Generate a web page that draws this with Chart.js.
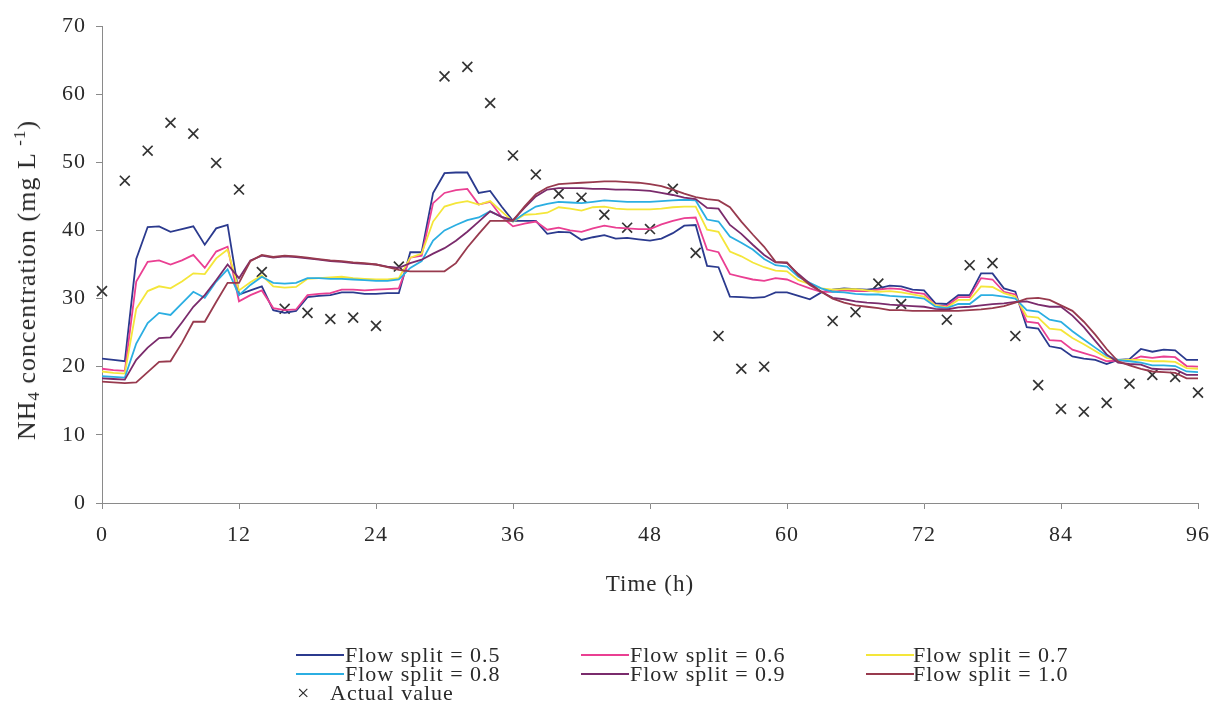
<!DOCTYPE html>
<html>
<head>
<meta charset="utf-8">
<script src="https://cdn.jsdelivr.net/npm/chart.js@4.4.1/dist/chart.umd.min.js"></script>
<style>
  html, body { margin: 0; padding: 0; background: #fff; }
  #wrap { position: relative; width: 1213px; height: 703px; overflow: hidden; }
  canvas { display: block; }
  .lg { position: absolute; font-family: "Liberation Serif", "Times New Roman", serif; font-size: 22px; letter-spacing: 1px; color: #2a2a2a; line-height: 1; white-space: nowrap; }
  .sw { position: absolute; height: 0; border-top: 2px solid; }
  #ytitle { position: absolute; left: 27px; top: 280px; transform: translate(-50%, -50%) rotate(-90deg); font-family: "Liberation Serif", "Times New Roman", serif; font-size: 26px; letter-spacing: 1px; color: #2a2a2a; white-space: nowrap; line-height: 1; }
  #ytitle sub { font-size: 17px; vertical-align: -4px; line-height: 0; }
  #ytitle sup { font-size: 17px; vertical-align: 10px; line-height: 0; }
</style>
</head>
<body>
<div id="wrap">
  <canvas id="c" width="1213" height="703"></canvas>
  <div id="ytitle">NH<sub>4</sub> concentration (mg L <sup>-1</sup>)</div>
  <div id="legend"></div>
</div>
<script>
// ---- data ----
const hours = [0,1,2,3,4,5,6,7,8,9,10,11,12,13,14,15,16,17,18,19,20,21,22,23,24,25,26,27,28,29,30,31,32,33,34,35,36,37,38,39,40,41,42,43,44,45,46,47,48,49,50,51,52,53,54,55,56,57,58,59,60,61,62,63,64,65,66,67,68,69,70,71,72,73,74,75,76,77,78,79,80,81,82,83,84,85,86,87,88,89,90,91,92,93,94,95,96];

const split05 = [21.2,21.0,20.8,35.8,40.5,40.6,39.8,40.2,40.6,37.9,
  40.3,40.8,30.6,31.2,31.8,28.3,27.9,28.2,30.2,30.4,
  30.5,30.9,30.9,30.7,30.7,30.8,30.8,36.8,36.8,45.5,
  48.4,48.5,48.5,45.5,45.8,43.5,41.4,41.4,41.4,39.5,
  39.8,39.7,38.6,39.0,39.3,38.8,38.9,38.7,38.5,38.8,
  39.6,40.7,40.8,34.8,34.6,30.3,30.2,30.1,30.2,30.9,
  30.9,30.4,29.9,30.9,31.3,31.5,31.4,31.3,31.5,31.9,
  31.8,31.3,31.2,29.3,29.2,30.5,30.5,33.7,33.7,31.5,
  31.0,25.8,25.6,23.0,22.7,21.5,21.2,21.0,20.4,21.0,
  21.1,22.6,22.2,22.5,22.4,21.0,21.0];

const split06 = [19.7,19.5,19.4,32.5,35.4,35.6,35.0,35.6,36.4,34.5,
  36.9,37.6,29.6,30.5,31.2,28.6,28.3,28.4,30.5,30.7,
  30.8,31.3,31.3,31.2,31.3,31.4,31.5,36.0,36.3,44.0,
  45.5,45.9,46.1,43.8,44.2,42.0,40.6,41.0,41.3,40.1,
  40.4,40.0,39.8,40.3,40.7,40.4,40.3,40.2,40.2,40.9,
  41.4,41.8,41.9,37.2,36.8,33.6,33.2,32.8,32.6,33.0,
  32.8,32.1,31.5,31.0,31.0,31.2,31.1,31.1,31.3,31.5,
  31.4,30.9,30.7,29.0,28.9,30.2,30.2,33.0,32.8,31.0,
  30.6,26.6,26.4,23.9,23.8,22.5,22.0,21.5,20.8,20.9,
  20.9,21.5,21.3,21.5,21.4,20.1,20.0];

const split07 = [19.3,19.1,19.0,28.5,31.1,31.8,31.5,32.5,33.7,33.6,
  35.9,37.2,31.2,32.4,33.4,31.8,31.6,31.7,32.9,33.0,
  33.1,33.2,33.0,32.9,32.8,32.8,33.0,36.0,36.6,41.3,
  43.5,44.0,44.3,43.8,44.3,42.8,41.3,42.3,42.4,42.6,
  43.4,43.2,42.9,43.4,43.5,43.2,43.1,43.1,43.1,43.2,
  43.4,43.5,43.5,40.1,39.8,36.9,36.2,35.3,34.6,34.1,
  34.0,32.7,32.1,31.5,31.3,31.4,31.4,31.2,31.0,31.1,
  30.9,30.6,30.3,29.0,28.7,29.8,29.8,31.8,31.7,30.8,
  30.3,27.4,27.2,25.6,25.4,24.2,23.3,22.3,21.3,21.0,
  21.0,21.0,20.8,20.8,20.7,19.8,19.7];

const split08 = [18.6,18.5,18.4,23.4,26.4,27.9,27.6,29.3,31.0,30.1,
  32.5,34.3,30.5,32.0,33.2,32.3,32.2,32.3,33.0,33.0,
  32.9,32.9,32.8,32.7,32.6,32.6,32.8,34.5,35.5,38.5,
  40.0,40.8,41.5,41.9,42.8,42.0,41.3,42.5,43.5,43.9,
  44.2,44.1,44.0,44.2,44.4,44.3,44.2,44.2,44.2,44.3,
  44.4,44.5,44.4,41.6,41.3,39.1,38.2,37.2,35.8,34.9,
  34.7,33.2,32.3,31.5,31.0,30.9,30.7,30.6,30.6,30.4,
  30.3,30.2,30.0,28.8,28.6,29.2,29.2,30.5,30.5,30.3,
  30.0,28.3,28.1,26.9,26.6,25.2,24.0,22.8,21.6,21.0,
  20.8,20.6,20.2,20.2,20.1,19.3,19.2];

const split09 = [18.3,18.2,18.1,21.0,22.8,24.2,24.3,26.5,28.8,30.5,
  32.7,35.0,33.0,35.6,36.3,36.0,36.2,36.1,35.9,35.7,
  35.5,35.4,35.2,35.1,35.0,34.7,34.5,35.2,35.7,36.6,
  37.4,38.5,39.8,41.3,42.8,42.0,41.5,43.3,45.0,46.0,
  46.2,46.2,46.2,46.1,46.1,46.0,46.0,45.9,45.8,45.5,
  45.2,44.8,44.6,43.3,43.2,40.8,39.5,37.9,36.4,35.3,
  35.2,33.6,32.2,31.0,30.1,29.9,29.6,29.4,29.3,29.1,
  29.0,28.9,28.8,28.5,28.4,28.7,28.8,29.0,29.2,29.3,
  29.5,29.6,29.1,28.8,28.8,27.5,25.8,23.8,21.8,20.6,
  20.4,20.3,19.7,19.6,19.6,18.8,18.8];

const split10 = [17.8,17.7,17.6,17.7,19.2,20.7,20.8,23.5,26.6,26.6,
  29.5,32.3,32.3,35.5,36.4,36.1,36.3,36.2,36.0,35.8,
  35.6,35.5,35.3,35.2,35.0,34.6,34.2,34.0,34.0,34.0,
  34.0,35.2,37.5,39.5,41.4,41.4,41.4,43.5,45.3,46.3,
  46.8,46.9,47.0,47.1,47.2,47.2,47.1,47.0,46.8,46.5,
  46.0,45.4,44.9,44.6,44.4,43.4,41.3,39.4,37.6,35.4,
  35.3,33.4,32.0,31.0,30.0,29.4,29.0,28.8,28.6,28.3,
  28.3,28.2,28.2,28.2,28.2,28.2,28.3,28.4,28.6,28.9,
  29.4,30.0,30.1,29.8,29.0,28.2,26.6,24.7,22.6,20.8,
  20.2,19.7,19.3,19.2,19.1,18.3,18.3];

const actualHours = [0,2,4,6,8,10,12,14,16,18,20,22,24,26,30,32,34,36,38,40,42,44,46,48,50,52,54,56,58,64,66,68,70,74,76,78,80,82,84,86,88,90,92,94,96];
const actualValues = [31.1,47.3,51.7,55.8,54.2,49.9,46.0,33.9,28.5,27.9,27.0,27.2,26.0,34.7,62.6,64.0,58.7,51.0,48.2,45.4,44.8,42.3,40.4,40.2,46.1,36.7,24.5,19.7,20.0,26.7,28.0,32.2,29.2,26.9,34.9,35.2,24.5,17.3,13.8,13.4,14.7,17.5,18.8,18.5,16.2];

const seriesNames = ['Flow split = 0.5','Flow split = 0.6','Flow split = 0.7','Flow split = 0.8','Flow split = 0.9','Flow split = 1.0'];
const actualName = 'Actual value';
const xTickStep = 12;
const yTickStep = 10;

// ---- styles ----
const seriesColors = ['#2B3A8E','#EA3F92','#F4E63A','#2BAEE2','#7A2B6C','#983A4E'];
const FONT = '"Liberation Serif", "Times New Roman", serif';
const TXT = '#2a2a2a';
const AX = '#8a8a8a';

const seriesValues = [split05, split06, split07, split08, split09, split10];
const toXY = (xs, ys) => xs.map((x, i) => ({ x: x, y: ys[i] }));

const datasets = seriesValues.map((vals, i) => ({
  label: seriesNames[i],
  data: toXY(hours, vals),
  borderColor: seriesColors[i],
  backgroundColor: seriesColors[i],
  borderWidth: 1.8,
  pointRadius: 0,
  tension: 0,
  fill: false
}));
datasets.reverse();
datasets.push({
  type: 'scatter',
  label: actualName,
  data: toXY(actualHours, actualValues),
  showLine: false,
  clip: false,
  pointStyle: 'crossRot',
  pointRadius: 7,
  pointBorderWidth: 1.7,
  borderColor: '#333',
  backgroundColor: '#333'
});

const spacing = {
  id: 'spacing',
  beforeDraw(chart) { chart.ctx.letterSpacing = '1px'; }
};

new Chart(document.getElementById('c'), {
  type: 'line',
  data: { datasets: datasets },
  plugins: [spacing],
  options: {
    responsive: false,
    animation: false,
    events: [],
    layout: { padding: { left: 6, right: 15, top: 26, bottom: 100 } },
    plugins: { legend: { display: false }, tooltip: { enabled: false } },
    scales: {
      x: {
        type: 'linear', min: 0, max: 96,
        ticks: { stepSize: xTickStep, font: { family: FONT, size: 22 }, color: TXT, padding: 13, maxRotation: 0 },
        grid: { drawOnChartArea: false, drawTicks: true, tickLength: 6, color: AX },
        border: { display: true, color: AX, width: 1 },
        title: { display: true, text: 'Time (h)', font: { family: FONT, size: 23 }, color: TXT, padding: { top: 4, bottom: 4 } },
        afterFit: (s) => { s.height = 100; s.paddingLeft = 0; s.paddingRight = 0; }
      },
      y: {
        min: 0, max: 70,
        ticks: { stepSize: yTickStep, font: { family: FONT, size: 22 }, color: TXT, padding: 10 },
        grid: { drawOnChartArea: false, drawTicks: true, tickLength: 6, color: AX },
        border: { display: true, color: AX, width: 1 },
        title: { display: false },
        afterFit: (s) => { s.width = 96; }
      }
    }
  }
});

// ---- HTML legend ----
const lg = document.getElementById('legend');
const cols = [{ line: 296, text: 345 }, { line: 581, text: 630 }, { line: 866, text: 913 }];
const rows = [655, 674];
seriesNames.forEach((name, i) => {
  const c = cols[i % 3], r = rows[Math.floor(i / 3)];
  const sw = document.createElement('div');
  sw.className = 'sw';
  sw.style.left = c.line + 'px'; sw.style.width = '48px';
  sw.style.top = (r - 1) + 'px'; sw.style.borderTopColor = seriesColors[i];
  lg.appendChild(sw);
  const t = document.createElement('div');
  t.className = 'lg'; t.textContent = name;
  t.style.left = c.text + 'px'; t.style.top = (r - 11) + 'px';
  lg.appendChild(t);
});
const mk = document.createElement('div');
mk.className = 'lg'; mk.textContent = '\u00D7';
mk.style.left = '297px'; mk.style.top = '682px'; mk.style.fontSize = '22px';
lg.appendChild(mk);
const at = document.createElement('div');
at.className = 'lg'; at.textContent = actualName;
at.style.left = '330px'; at.style.top = '682px';
lg.appendChild(at);
</script>
</body>
</html>
